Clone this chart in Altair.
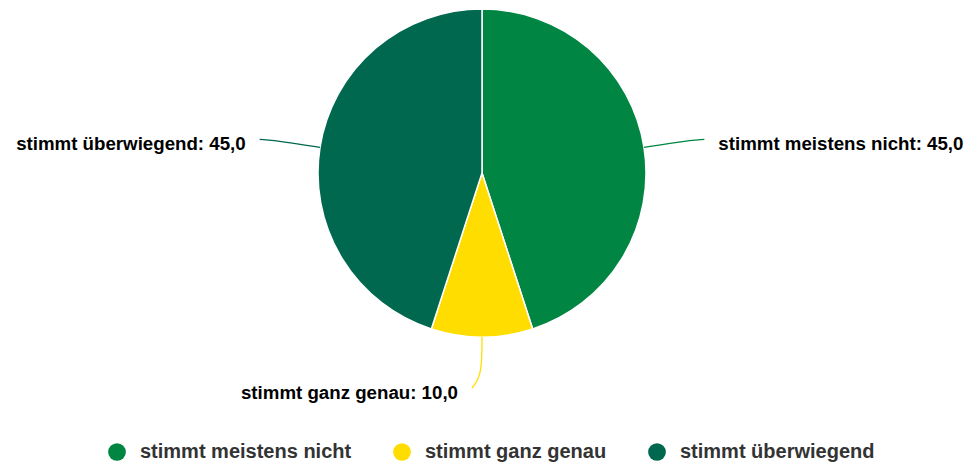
import math
import altair as alt
import pandas as pd

categories = ["stimmt meistens nicht", "stimmt ganz genau", "stimmt überwiegend"]
values = [45.0, 10.0, 45.0]
colors = ["#008542", "#FFDD00", "#00684F"]

W, H = 958, 459
CX, CY, R = 474, 165, 164

total = sum(values)
rows, lines, labels = [], [], []
acc = 0.0
for i, (c, v) in enumerate(zip(categories, values)):
    a = (acc + v / 2) / total * 2 * math.pi
    acc += v
    s, co = math.sin(a), math.cos(a)
    sgn = 1 if s > 0.01 else -1
    ex, ey = CX + s * R, CY - co * R
    bx, by = CX + s * (R + 38), CY - co * (R + 38)
    lx, ly = CX + s * (R + 51) + sgn * 10, CY - co * (R + 51)
    for k, (px, py) in enumerate([(ex, ey), (bx, by), (lx, ly)]):
        lines.append({"cat": c, "k": k, "x": px, "y": py})
    labels.append({"cat": c, "x": lx + sgn * 14, "y": ly + 5,
                   "txt": f"{c}: {v:.1f}".replace(".", ","),
                   "side": "left" if sgn > 0 else "right"})
    rows.append({"cat": c, "val": v, "order": i})

df = pd.DataFrame(rows)
ldf = pd.DataFrame(lines)
tdf = pd.DataFrame(labels)

color_scale = alt.Scale(domain=categories, range=colors)
xs = alt.Scale(domain=[0, W], range=[0, W], nice=False, zero=False)
ys = alt.Scale(domain=[0, H], range=[0, H], nice=False, zero=False)

pie = alt.Chart(df).mark_arc(outerRadius=R, stroke="white", strokeWidth=1.5).encode(
    theta=alt.Theta("val:Q", stack=True),
    order=alt.Order("order:Q"),
    color=alt.Color("cat:N", scale=color_scale, sort=categories,
                    legend=alt.Legend(title=None, orient="none", direction="horizontal",
                                      legendX=99, legendY=434,
                                      symbolType="circle", symbolSize=314,
                                      symbolStrokeWidth=0,
                                      labelFont="Liberation Sans", labelFontSize=20,
                                      labelFontWeight="bold", labelColor="#333333",
                                      columnPadding=40, labelOffset=13,
                                      labelLimit=400)),
    x=alt.value(CX), y=alt.value(CY),
)

conn = alt.Chart(ldf).mark_line(strokeWidth=1.3, interpolate="basis").encode(
    x=alt.X("x:Q", scale=xs, axis=None),
    y=alt.Y("y:Q", scale=ys, axis=None),
    detail="cat:N", order="k:Q",
    color=alt.Color("cat:N", scale=color_scale, legend=None),
)

txt_r = alt.Chart(tdf[tdf.side == "left"]).mark_text(
    align="left", baseline="middle", font="Liberation Sans", fontSize=18.7,
    fontWeight="bold", color="#000000").encode(
    x=alt.X("x:Q", scale=xs, axis=None), y=alt.Y("y:Q", scale=ys, axis=None), text="txt:N")
txt_l = alt.Chart(tdf[tdf.side == "right"]).mark_text(
    align="right", baseline="middle", font="Liberation Sans", fontSize=18.7,
    fontWeight="bold", color="#000000").encode(
    x=alt.X("x:Q", scale=xs, axis=None), y=alt.Y("y:Q", scale=ys, axis=None), text="txt:N")

chart = alt.layer(pie, conn, txt_r, txt_l).resolve_scale(color="shared").properties(
    width=W, height=H, autosize=alt.AutoSizeParams(type="none"), padding=0
).configure(background="white").configure_view(stroke=None, strokeWidth=0)

chart.save("out.html", embed_options={"renderer": "svg", "actions": False})
